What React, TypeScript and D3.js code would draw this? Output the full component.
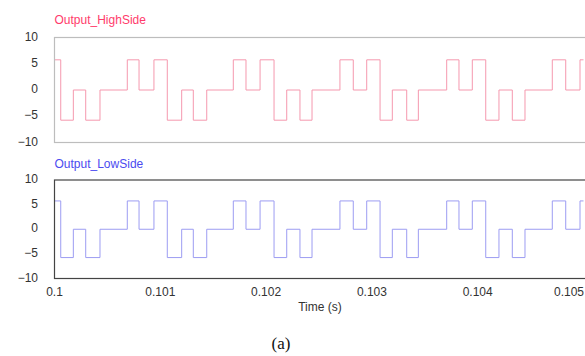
import React from "react";
import * as d3 from "d3";

const xTicks = [0.1, 0.101, 0.102, 0.103, 0.104, 0.105];
const xTickLabels = ["0.1", "0.101", "0.102", "0.103", "0.104", "0.105"];
const yTicks = [10, 5, 0, -5, -10];

const times = [
  0.1, 0.100059, 0.100178, 0.100295, 0.10043, 0.100688, 0.100799, 0.10094,
  0.101066, 0.101202, 0.101312, 0.101439, 0.10169, 0.10181, 0.101943,
  0.102075, 0.102195, 0.10232, 0.102434, 0.102698, 0.102824, 0.102951,
  0.103077, 0.103193, 0.103329, 0.103439, 0.103707, 0.103823, 0.103949,
  0.104076, 0.104201, 0.104327, 0.104447, 0.104705, 0.104832, 0.104967, 0.105,
];

const highSideValues = [
  5.75, -5.75, 0, -5.75, 0, 5.75, 0, 5.75,
  -5.75, 0, -5.75, 0, 5.75, 0, 5.75,
  -5.75, 0, -5.75, 0, 5.75, 0, 5.75,
  -5.75, 0, -5.75, 0, 5.75, 0, 5.75,
  -5.75, 0, -5.75, 0, 5.75, 0, 5.75, 5.75,
];

const lowSideValues = [
  5.75, -5.75, 0, -5.75, 0, 5.75, 0, 5.75,
  -5.75, 0, -5.75, 0, 5.75, 0, 5.75,
  -5.75, 0, -5.75, 0, 5.75, 0, 5.75,
  -5.75, 0, -5.75, 0, 5.75, 0, 5.75,
  -5.75, 0, -5.75, 0, 5.75, 0, 5.75, 5.75,
];

const W = 585;
const H = 356;
const left = 54.5;
const right = 583.5;
const font = "Arial, 'Liberation Sans', sans-serif";

const x = d3.scaleLinear().domain([0.1, 0.105]).range([left, right]);

type PanelProps = {
  title: string;
  titleColor: string;
  lineColor: string;
  borderColor: string;
  values: number[];
  top: number;
  bottom: number;
  titleY: number;
};

function Panel({ title, titleColor, lineColor, borderColor, values, top, bottom, titleY }: PanelProps) {
  const y = d3.scaleLinear().domain([-10, 10]).range([bottom, top]);
  const line = d3
    .line<number>()
    .x((_, i) => x(times[i]))
    .y((v) => y(v))
    .curve(d3.curveStepAfter);
  return (
    <g>
      <text x={left} y={titleY} fill={titleColor} fontFamily={font} fontSize={12} dominantBaseline="middle">
        {title}
      </text>
      <path d={line(values) || ""} fill="none" stroke={lineColor} strokeWidth={1} />
      <rect x={left} y={top} width={W + 10 - left} height={bottom - top} fill="none" stroke={borderColor} strokeWidth={1.2} />
      {yTicks.map((t) => (
        <text key={t} x={38} y={y(t)} textAnchor="end" dominantBaseline="middle" fontFamily={font} fontSize={12} fill="#333">
          {t < 0 ? "\u2212" + Math.abs(t) : String(t)}
        </text>
      ))}
    </g>
  );
}

export default function App() {
  return (
    <svg width={W} height={H} style={{ position: "absolute", left: 0, top: 0, background: "#fff" }}>
      <rect x={0} y={0} width={W} height={H} fill="#fff" />
      <Panel
        title="Output_HighSide"
        titleColor="#ff3b6b"
        lineColor="#f598ae"
        borderColor="#bdbdbd"
        values={highSideValues}
        top={37.5}
        bottom={142.5}
        titleY={21}
      />
      <Panel
        title="Output_LowSide"
        titleColor="#4b4bf0"
        lineColor="#9c9cf2"
        borderColor="#444"
        values={lowSideValues}
        top={180}
        bottom={278.5}
        titleY={165}
      />
      {xTicks.map((t, i) => {
        const last = i === xTicks.length - 1;
        return (
          <text
            key={t}
            x={last ? 584 : x(t)}
            y={293}
            textAnchor={last ? "end" : "middle"}
            dominantBaseline="middle"
            fontFamily={font}
            fontSize={12}
            fill="#333"
          >
            {xTickLabels[i]}
          </text>
        );
      })}
      <text x={320} y={308} textAnchor="middle" dominantBaseline="middle" fontFamily={font} fontSize={12} fill="#333">
        Time (s)
      </text>
      <text x={281} y={345} textAnchor="middle" dominantBaseline="middle" fontFamily="'Liberation Serif', 'DejaVu Serif', serif" fontSize={17} fill="#111">
        (a)
      </text>
    </svg>
  );
}
